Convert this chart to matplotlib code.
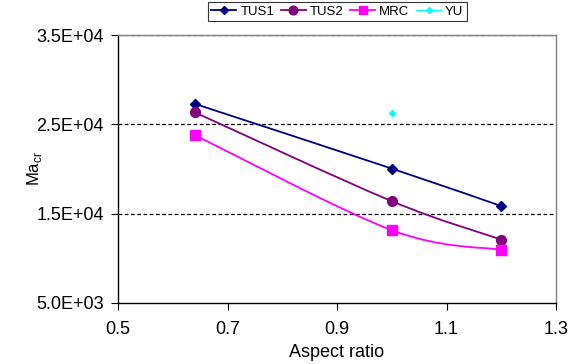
import matplotlib
matplotlib.use("Agg")
import matplotlib.pyplot as plt
from matplotlib.path import Path
from matplotlib.patches import PathPatch
from matplotlib.lines import Line2D
import numpy as np

plt.rcParams['font.family'] = ['Liberation Sans', 'DejaVu Sans']
plt.rcParams['mathtext.fontset'] = 'custom'
plt.rcParams['mathtext.rm'] = 'Liberation Sans'

aspect = [0.64, 1.0, 1.2]
tus1 = [27300, 20050, 15850]
tus2 = [26350, 16400, 12100]
mrc = [23800, 13150, 10950]
yu_x = [1.0]
yu = [26250]

xticks = [0.5, 0.7, 0.9, 1.1, 1.3]
yticks = [5000, 15000, 25000, 35000]
ytick_labels = ['5.0E+03', '1.5E+04', '2.5E+04', '3.5E+04']


def smooth_path(x, y):
    # Excel-like smoothed line: Catmull-Rom tangents as cubic Bezier segments
    pts = np.column_stack([x, y]).astype(float)
    ext = np.vstack([pts[0], pts, pts[-1]])
    verts = [pts[0]]
    codes = [Path.MOVETO]
    for i in range(1, len(ext) - 2):
        p0, p1, p2, p3 = ext[i - 1], ext[i], ext[i + 1], ext[i + 2]
        verts += [p1 + (p2 - p0) / 6, p2 - (p3 - p1) / 6, p2]
        codes += [Path.CURVE4] * 3
    return Path(verts, codes)


fig = plt.figure(figsize=(5.69, 3.64), dpi=100)
ax = fig.add_axes([0.2074, 0.1676, 0.7698, 0.7362])

series = [
    ('TUS1', tus1, '#000080', 'D', 5),
    ('TUS2', tus2, '#800080', 'o', 7),
    ('MRC', mrc, '#FF00FF', 's', 6.5),
]
handles = []
for name, vals, col, mk, ms in series:
    ax.add_patch(PathPatch(smooth_path(aspect, vals), facecolor='none',
                           edgecolor=col, lw=1.3, zorder=3))
    ax.plot(aspect, vals, ls='none', marker=mk, ms=ms, color=col, zorder=4)
    handles.append(Line2D([], [], color=col, lw=1.3, marker=mk, ms=ms * 0.9))

ax.plot(yu_x, yu, ls='none', marker='D', ms=3, color='#00FFFF', zorder=4)
handles.append(Line2D([], [], color='#00FFFF', lw=1.0, marker='D', ms=3))

ax.set_xlim(0.5, 1.3)
ax.set_ylim(5000, 35000)
ax.set_xticks(xticks)
ax.set_xticklabels([str(v) for v in xticks])
ax.set_yticks(yticks)
ax.set_yticklabels(ytick_labels)
ax.tick_params(labelsize=13, length=5, width=0.8, direction='out')
ax.tick_params(axis='x', pad=8)
ax.tick_params(axis='y', pad=5)

for v in [15000, 25000, 35000]:
    ax.axhline(v, color='black', ls=(0, (3, 2)), lw=0.9, zorder=2)

ax.spines['left'].set_color('black')
ax.spines['bottom'].set_color('black')
ax.spines['top'].set_color('#808080')
ax.spines['right'].set_color('#808080')
for s in ax.spines.values():
    s.set_linewidth(1.0)

ax.set_xlabel('Aspect ratio', fontsize=13, labelpad=4)
ax.set_ylabel(r'Ma$_{\mathrm{cr}}$', fontsize=12, labelpad=0)
ax.yaxis.set_label_coords(-0.17, 0.5)

leg = fig.legend(handles, ['TUS1', 'TUS2', 'MRC', 'YU'], ncol=4,
                 loc='upper left', bbox_to_anchor=(208 / 569, 1 - 2 / 364),
                 fontsize=9.5, frameon=True, fancybox=False, edgecolor='black',
                 handlelength=1.9, handletextpad=0.3, columnspacing=0.5,
                 borderpad=0.25, borderaxespad=0)
leg.get_frame().set_linewidth(0.8)

fig.savefig('out.png', dpi=100)
